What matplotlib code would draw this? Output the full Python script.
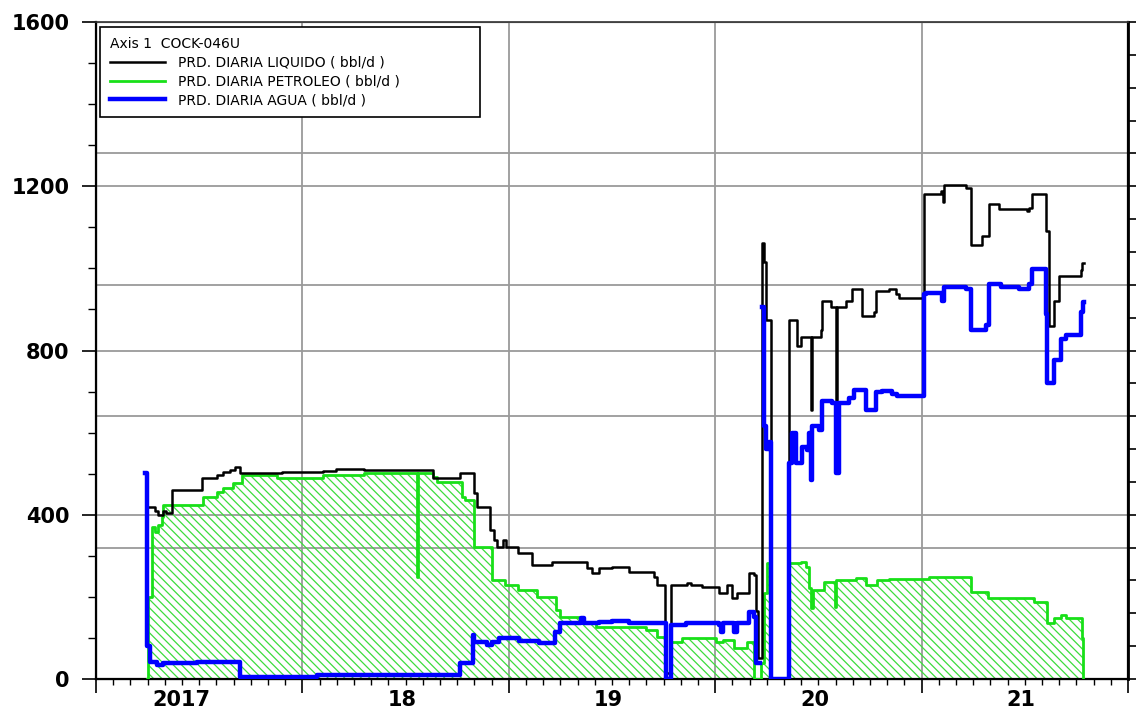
import matplotlib
matplotlib.use('Agg')
import matplotlib.pyplot as plt
import matplotlib.transforms as mtransforms
from matplotlib.lines import Line2D
from matplotlib.ticker import MultipleLocator, NullFormatter
import numpy as np

# well COCK-046U, daily production (bbl/d), time in decimal years, step series
liq_t = [2017.252, 2017.286, 2017.300, 2017.324, 2017.339, 2017.368, 2017.513, 2017.586,
         2017.615, 2017.649, 2017.673, 2017.697, 2017.900, 2018.099, 2018.162, 2018.300,
         2018.631, 2018.762, 2018.834, 2018.844, 2018.907, 2018.931, 2018.941, 2018.970,
         2018.985, 2019.043, 2019.115, 2019.212, 2019.381, 2019.401, 2019.439, 2019.502,
         2019.585, 2019.706, 2019.720, 2019.759, 2019.788, 2019.866, 2019.885, 2019.938,
         2020.020, 2020.059, 2020.083, 2020.107, 2020.166, 2020.190, 2020.199, 2020.210,
         2020.228, 2020.238, 2020.248, 2020.272, 2020.359, 2020.398, 2020.417, 2020.466,
         2020.470, 2020.514, 2020.519, 2020.562, 2020.587, 2020.591, 2020.635, 2020.664,
         2020.712, 2020.771, 2020.780, 2020.843, 2020.877, 2020.892, 2021.013, 2021.095,
         2021.104, 2021.109, 2021.216, 2021.240, 2021.293, 2021.327, 2021.376, 2021.511,
         2021.521, 2021.535, 2021.603, 2021.618, 2021.642, 2021.666, 2021.772, 2021.777,
         2021.787]
liq_v = [420, 410, 400, 410, 405, 461, 490, 497,
         505, 510, 517, 502, 503, 507, 512, 508,
         490, 502, 454, 418, 363, 339, 322, 339,
         322, 307, 278, 285, 271, 259, 271, 273,
         261, 249, 228, 15, 229, 234, 229, 224,
         210, 229, 198, 210, 259, 254, 166, 50,
         1063, 1015, 875, 0, 875, 810, 832, 656,
         832, 851, 920, 907, 680, 907, 920, 949,
         883, 895, 944, 949, 937, 929, 1180, 1188,
         1161, 1202, 1197, 1058, 1078, 1156, 1144, 1139,
         1148, 1180, 1090, 859, 920, 981, 997, 1014,
         1014]

pet_t = [2017.247, 2017.252, 2017.271, 2017.286, 2017.300, 2017.319, 2017.324, 2017.518,
         2017.586, 2017.615, 2017.663, 2017.707, 2017.876, 2018.099, 2018.300, 2018.554,
         2018.559, 2018.631, 2018.651, 2018.772, 2018.790, 2018.834, 2018.917, 2018.980,
         2019.043, 2019.139, 2019.231, 2019.246, 2019.343, 2019.425, 2019.667, 2019.720,
         2019.759, 2019.788, 2019.841, 2020.006, 2020.040, 2020.093, 2020.156, 2020.190,
         2020.224, 2020.238, 2020.253, 2020.272, 2020.359, 2020.417, 2020.441, 2020.456,
         2020.466, 2020.475, 2020.529, 2020.582, 2020.587, 2020.683, 2020.732, 2020.785,
         2020.843, 2021.037, 2021.240, 2021.322, 2021.545, 2021.608, 2021.642, 2021.676,
         2021.700, 2021.777, 2021.782]
pet_v = [0, 200, 371, 359, 375, 395, 424, 444,
         456, 466, 478, 498, 490, 498, 502, 249,
         502, 493, 480, 444, 437, 322, 241, 229,
         217, 200, 168, 151, 137, 127, 120, 102,
         0, 90, 100, 90, 95, 75, 90, 0,
         39, 210, 283, 0, 283, 285, 273, 222,
         173, 217, 237, 176, 241, 246, 229, 241,
         244, 249, 212, 198, 188, 137, 149, 156,
         149, 100, 0]

agua_t = [2017.237, 2017.247, 2017.261, 2017.295, 2017.324, 2017.489, 2017.697, 2018.070,
          2018.762, 2018.825, 2018.834, 2018.897, 2018.917, 2018.955, 2019.052, 2019.149,
          2019.222, 2019.246, 2019.352, 2019.367, 2019.439, 2019.500, 2019.585, 2019.764,
          2019.788, 2019.861, 2020.020, 2020.030, 2020.040, 2020.093, 2020.107, 2020.166,
          2020.190, 2020.199, 2020.215, 2020.228, 2020.238, 2020.248, 2020.262, 2020.272,
          2020.359, 2020.374, 2020.393, 2020.422, 2020.446, 2020.456, 2020.466, 2020.470,
          2020.504, 2020.519, 2020.567, 2020.587, 2020.601, 2020.650, 2020.674, 2020.732,
          2020.780, 2020.809, 2020.858, 2020.882, 2021.013, 2021.022, 2021.100, 2021.109,
          2021.216, 2021.240, 2021.313, 2021.327, 2021.385, 2021.472, 2021.521, 2021.535,
          2021.603, 2021.608, 2021.642, 2021.676, 2021.700, 2021.772, 2021.782, 2021.787]
agua_v = [502, 80, 41, 34, 39, 41, 5, 10,
          39, 107, 90, 83, 90, 100, 93, 88,
          115, 137, 149, 137, 139, 142, 137, 0,
          132, 137, 132, 115, 137, 115, 137, 163,
          151, 39, np.nan, 907, 615, 560, 576, 0,
          527, 600, 527, 566, 558, 600, 485, 615,
          607, 676, 673, 502, 673, 685, 705, 656,
          698, 702, 693, 690, 937, 941, 920, 954,
          949, 851, 863, 961, 954, 949, 961, 998,
          888, 722, 778, 827, 839, 893, 917, 917]

year_pos = [2017.5, 2018.5, 2019.5, 2020.5, 2021.5]
year_labels = ['2017', '18', '19', '20', '21']

legend_title = 'Axis 1  COCK-046U'
series_labels = ['PRD. DIARIA LIQUIDO ( bbl/d )',
                 'PRD. DIARIA PETROLEO ( bbl/d )',
                 'PRD. DIARIA AGUA ( bbl/d )']

plt.rcParams['font.family'] = 'DejaVu Sans'
plt.rcParams['hatch.linewidth'] = 0.9

c_liq = 'black'
c_pet = '#18e018'
c_agua = '#0000ff'
c_grid = '#9a9a9a'

fig = plt.figure(figsize=(11.37, 7.11), dpi=100)
ax = fig.add_axes([0.0844, 0.0450, 0.9076, 0.9240])
ax2 = ax.twinx()
ax.set_zorder(ax2.get_zorder() + 1)
ax.patch.set_visible(False)

# secondary scale (no labels) only supplies its own grid and right ticks
ax2.set_ylim(0, 5)
ax2.yaxis.set_major_locator(MultipleLocator(1))
ax2.yaxis.set_minor_locator(MultipleLocator(0.25))
ax2.yaxis.set_major_formatter(NullFormatter())
ax2.tick_params(axis='y', which='both', direction='out', length=6, width=1.2, color='black')
ax2.grid(axis='y', which='major', color=c_grid, linewidth=1.3)
ax2.set_axisbelow(True)

ax.fill_between(pet_t, pet_v, step='post', facecolor='none', edgecolor='#3ddc3d',
                hatch='\\\\\\\\', linewidth=0, zorder=1)
ax.step(pet_t, pet_v, where='post', color=c_pet, linewidth=2.0, zorder=3)
ax.step(liq_t, liq_v, where='post', color=c_liq, linewidth=1.8, zorder=4)
ax.step(agua_t, agua_v, where='post', color=c_agua, linewidth=3.2, zorder=5)

ax.set_xlim(2017, 2022)
ax.set_ylim(0, 1600)

ax.xaxis.set_major_locator(MultipleLocator(1))
ax.xaxis.set_minor_locator(MultipleLocator(1 / 12))
ax.xaxis.set_major_formatter(NullFormatter())
ax.tick_params(axis='x', which='major', direction='out', length=10, width=1.2)
ax.tick_params(axis='x', which='minor', direction='out', length=4, width=1.0)

ax.yaxis.set_major_locator(MultipleLocator(400))
ax.yaxis.set_minor_locator(MultipleLocator(100))
ax.tick_params(axis='y', which='major', direction='out', length=10, width=1.2,
               labelsize=15, pad=9)
ax.tick_params(axis='y', which='minor', direction='out', length=6, width=1.0)
for lbl in ax.get_yticklabels():
    lbl.set_fontweight('bold')

ax.grid(which='major', color=c_grid, linewidth=1.3)
ax.set_axisbelow(True)

for sp in ['left', 'bottom', 'right']:
    ax.spines[sp].set_linewidth(1.6)
ax.spines['top'].set_linewidth(1.2)
ax.spines['top'].set_color('#333333')
ax2.spines['right'].set_linewidth(2.0)

# year labels under each year span
offset = mtransforms.ScaledTranslation(0.11, 0, fig.dpi_scale_trans)
trans = mtransforms.blended_transform_factory(ax.transData, ax.transAxes) + offset
for x, s in zip(year_pos, year_labels):
    ax.text(x, -0.017, s, transform=trans, ha='right', va='top',
            fontsize=15, fontweight='bold')

handles = [Line2D([], [], color=c_liq, linewidth=1.8),
           Line2D([], [], color=c_pet, linewidth=2.0),
           Line2D([], [], color=c_agua, linewidth=3.2)]
leg = ax.legend(handles, series_labels, title=legend_title, loc='upper left',
                bbox_to_anchor=(0.004, 0.848, 0.368, 0.1444), mode='expand',
                borderaxespad=0, fontsize=10, title_fontsize=10, alignment='left',
                fancybox=False, framealpha=1, edgecolor='black', handlelength=4.0,
                handletextpad=0.9, labelspacing=0.35, borderpad=0.7)
leg.get_frame().set_linewidth(1.2)

fig.savefig('out.png', dpi=100)
